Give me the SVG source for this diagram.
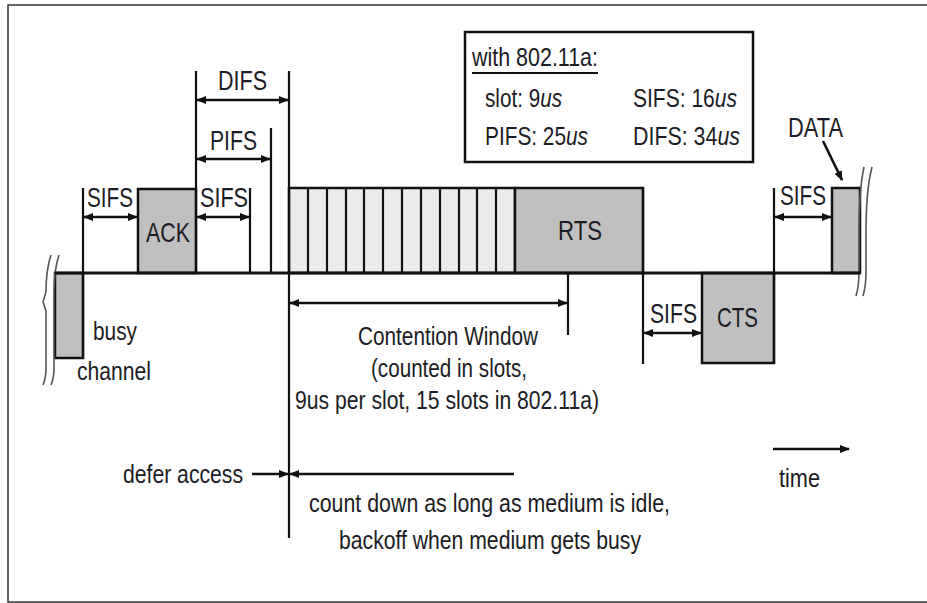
<svg xmlns="http://www.w3.org/2000/svg" width="927" height="603" viewBox="0 0 927 603">
<defs>
<marker id="ah" viewBox="0 0 10 8" refX="9" refY="4" markerWidth="10" markerHeight="8" markerUnits="userSpaceOnUse" orient="auto-start-reverse">
<path d="M0,0 L10,4 L0,8 z" fill="#111"/>
</marker>
<style>
.t{font-family:"Liberation Sans",Arial,sans-serif;fill:#1c1c24}
.lbl{font-size:28px}
.box{font-size:26px}
.txt{font-size:26px}
.it{font-style:italic}
.ln{stroke:#111;stroke-width:2.2;fill:none}
.base{stroke:#111;stroke-width:2.8;fill:none}
.gray{fill:#c0c0c0;stroke:#111;stroke-width:2.5}
.arr{stroke:#111;stroke-width:2.6;fill:none}
.brk{stroke:#555;stroke-width:1.6;fill:none}
</style>
</defs>
<rect x="8" y="5" width="930" height="597" fill="#fff" stroke="#333" stroke-width="1.5"/>

<g id="busy">
<rect class="gray" x="55" y="273" width="28" height="85"/>
<text class="t txt" x="93" y="340" textLength="44" lengthAdjust="spacingAndGlyphs">busy</text>
<text class="t txt" x="77" y="380" textLength="74" lengthAdjust="spacingAndGlyphs">channel</text>
</g>
<g id="ack">
<rect class="gray" x="138" y="189" width="58" height="84"/>
<text class="t lbl" x="146" y="242" textLength="44" lengthAdjust="spacingAndGlyphs">ACK</text>
</g>
<g id="slots">
<rect x="289" y="188" width="226" height="85" fill="#ebebeb" stroke="#111" stroke-width="2.5"/>
<path class="ln" d="M308 188V273M327 188V273M346 188V273M364 188V273M383 188V273M402 188V273M421 188V273M440 188V273M459 188V273M477 188V273M496 188V273"/>
</g>
<g id="rts">
<rect class="gray" x="515" y="188" width="128" height="85"/>
<text class="t lbl" x="558" y="240" textLength="44" lengthAdjust="spacingAndGlyphs">RTS</text>
</g>
<g id="cts">
<rect class="gray" x="702" y="273" width="72" height="90"/>
<text class="t lbl" x="717" y="327" textLength="41" lengthAdjust="spacingAndGlyphs">CTS</text>
</g>
<g id="data">
<rect class="gray" x="832" y="188" width="28" height="85"/>
<text class="t lbl" x="788" y="137" textLength="55" lengthAdjust="spacingAndGlyphs">DATA</text>
</g>
<g id="info">
<rect x="465" y="32" width="288" height="130" fill="#fff" stroke="#111" stroke-width="2.5"/>
<text class="t box" x="472" y="66" textLength="126" lengthAdjust="spacingAndGlyphs">with 802.11a:</text>
<line x1="472" y1="73" x2="598" y2="73" stroke="#111" stroke-width="2"/>
<text class="t box" x="485" y="107" textLength="77" lengthAdjust="spacingAndGlyphs">slot: 9<tspan class="it">us</tspan></text>
<text class="t box" x="485" y="145" textLength="103" lengthAdjust="spacingAndGlyphs">PIFS: 25<tspan class="it">us</tspan></text>
<text class="t box" x="633" y="107" textLength="104" lengthAdjust="spacingAndGlyphs">SIFS: 16<tspan class="it">us</tspan></text>
<text class="t box" x="633" y="145" textLength="107" lengthAdjust="spacingAndGlyphs">DIFS: 34<tspan class="it">us</tspan></text>
</g>
<g id="breaks">
<path class="brk" d="M51 255 Q46 270 46 292 L43 302 L46 311 L46 368 Q46 378 43 385"/>
<path class="brk" d="M59 255 Q54 270 54 292 L54 368 Q54 378 51 385"/>
<path class="brk" d="M864 167 Q859 190 859 232 L859 272 Q859 286 856 296"/>
<path class="brk" d="M872 167 Q866 190 866 232 L866 272 Q866 286 863 296"/>
</g>
<g id="timeline">
<line class="base" x1="55" y1="273" x2="860" y2="273"/>
<path class="ln" d="M83 188V358M196 71V273M250 188V273M271 128V273M289 71V538M568 273V335M643 188V364M774 188V363"/>
</g>
<g id="labels">
<text class="t lbl" x="218" y="90" textLength="49" lengthAdjust="spacingAndGlyphs">DIFS</text>
<text class="t lbl" x="210" y="150" textLength="47" lengthAdjust="spacingAndGlyphs">PIFS</text>
<text class="t lbl" x="87" y="207" textLength="46" lengthAdjust="spacingAndGlyphs">SIFS</text>
<text class="t lbl" x="200" y="207" textLength="48" lengthAdjust="spacingAndGlyphs">SIFS</text>
<text class="t lbl" x="650" y="323" textLength="47" lengthAdjust="spacingAndGlyphs">SIFS</text>
<text class="t lbl" x="780" y="205" textLength="46" lengthAdjust="spacingAndGlyphs">SIFS</text>
<text class="t txt" x="358" y="345" textLength="180" lengthAdjust="spacingAndGlyphs">Contention Window</text>
<text class="t txt" x="371" y="377" textLength="156" lengthAdjust="spacingAndGlyphs">(counted in slots,</text>
<text class="t txt" x="295" y="409" textLength="304" lengthAdjust="spacingAndGlyphs">9us per slot, 15 slots in 802.11a)</text>
<text class="t txt" x="123" y="483" textLength="120" lengthAdjust="spacingAndGlyphs">defer access</text>
<text class="t txt" x="309" y="512" textLength="361" lengthAdjust="spacingAndGlyphs">count down as long as medium is idle,</text>
<text class="t txt" x="339" y="549" textLength="302" lengthAdjust="spacingAndGlyphs">backoff when medium gets busy</text>
<text class="t txt" x="779" y="487" textLength="41" lengthAdjust="spacingAndGlyphs">time</text>
</g>
<g id="connectors">
<line class="arr" x1="197" y1="100" x2="288" y2="100" marker-start="url(#ah)" marker-end="url(#ah)"/>
<line class="arr" x1="197" y1="159" x2="270" y2="159" marker-start="url(#ah)" marker-end="url(#ah)"/>
<line class="arr" x1="84" y1="217" x2="137" y2="217" marker-start="url(#ah)" marker-end="url(#ah)"/>
<line class="arr" x1="197" y1="217" x2="249" y2="217" marker-start="url(#ah)" marker-end="url(#ah)"/>
<line class="arr" x1="644" y1="333" x2="701" y2="333" marker-start="url(#ah)" marker-end="url(#ah)"/>
<line class="arr" x1="775" y1="217" x2="831" y2="217" marker-start="url(#ah)" marker-end="url(#ah)"/>
<line class="arr" x1="290" y1="303" x2="567" y2="303" marker-start="url(#ah)" marker-end="url(#ah)"/>
<line class="arr" x1="252" y1="474" x2="288" y2="474" marker-end="url(#ah)"/>
<line class="arr" x1="514" y1="474" x2="290" y2="474" marker-end="url(#ah)"/>
<line class="arr" x1="823" y1="141" x2="842" y2="180" marker-end="url(#ah)"/>
<line class="arr" x1="773" y1="449" x2="849" y2="449" stroke-width="3" marker-end="url(#ah)"/>
</g>
</svg>
